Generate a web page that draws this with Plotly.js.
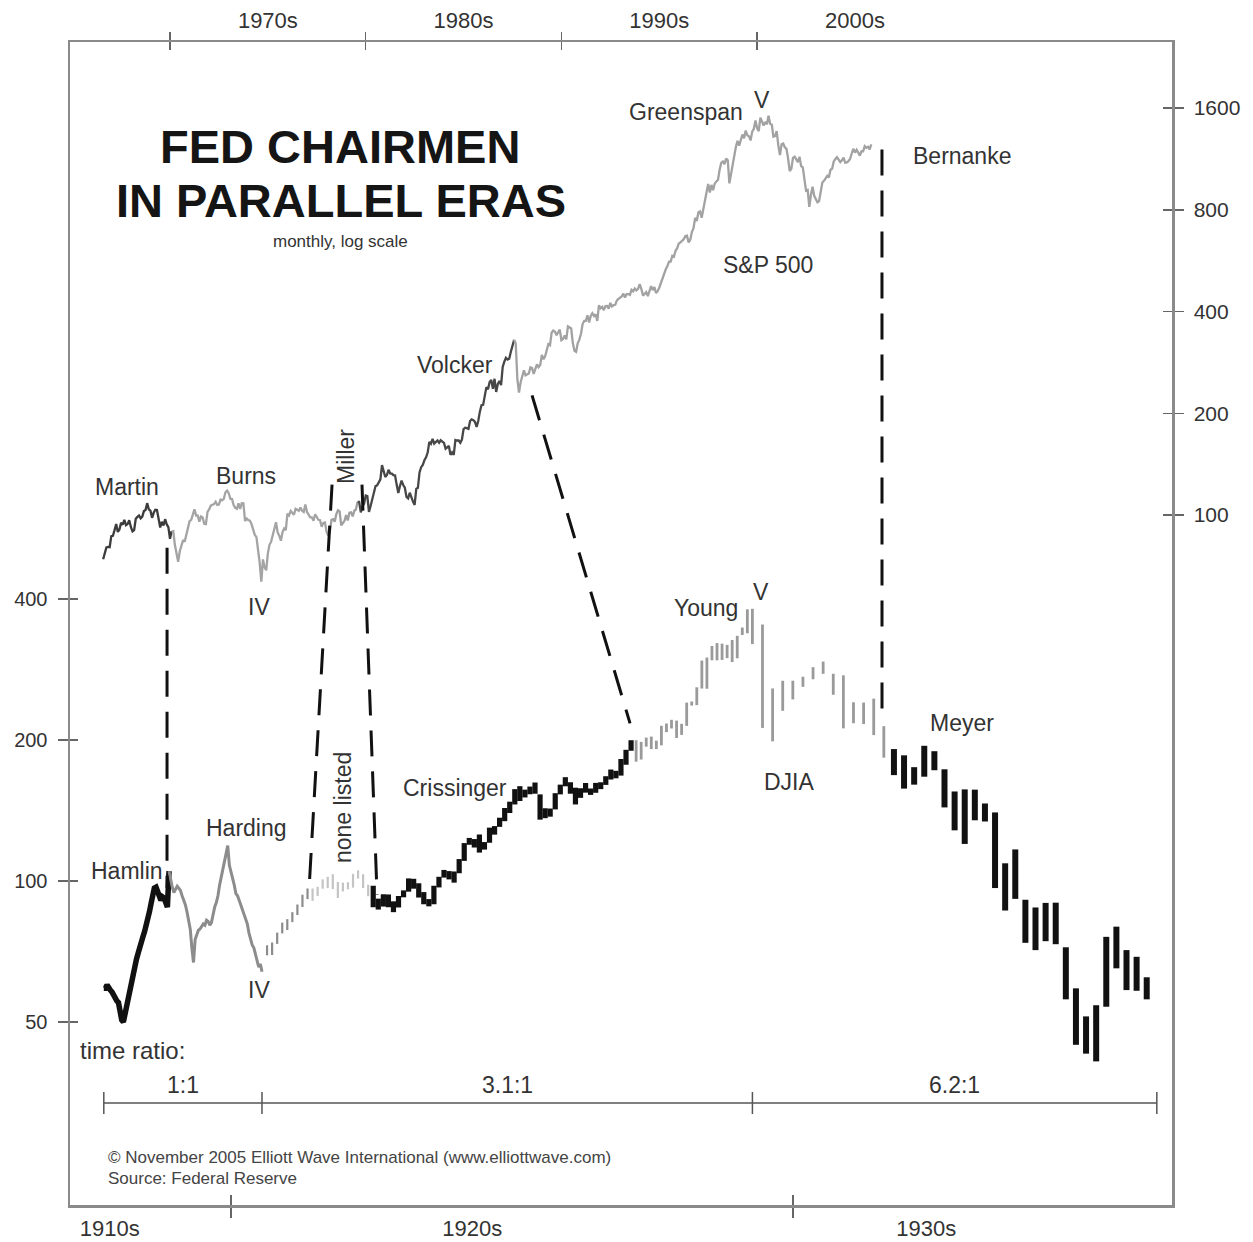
<!DOCTYPE html>
<html><head><meta charset="utf-8">
<script src="https://cdn.plot.ly/plotly-3.0.1.min.js"></script>
<style>html,body{margin:0;padding:0;background:#fff}#chart{width:1253px;height:1242px}</style>
</head><body><div id="chart"></div>
<script>
// ---------------- DATA ----------------
// S&P 500, monthly, first month Aug 1966, last Nov 2005
const spxStart = [1966, 8];
const spxClose = [
74.0,76.6,80.2,80.5,80.3,
86.6,86.8,90.2,94.0,89.1,90.6,94.8,93.6,96.7,93.3,94.0,96.5,
92.2,89.4,90.2,97.5,98.7,99.6,97.7,98.9,102.7,103.4,108.4,103.9,
103.0,98.1,101.5,103.7,103.5,97.7,91.8,95.5,93.1,97.2,93.8,92.1,
85.0,89.5,89.6,81.5,76.6,72.7,78.1,81.5,84.3,83.3,87.2,92.2,
95.9,96.8,100.3,103.9,99.6,99.7,95.6,99.0,98.3,94.2,94.0,102.1,
103.9,106.6,107.2,107.7,109.5,107.1,107.4,111.1,110.6,111.6,116.7,118.1,
116.0,111.7,111.5,107.0,105.0,104.3,108.2,104.3,108.4,108.3,96.0,97.6,
96.6,96.2,94.0,90.3,87.3,86.0,79.3,72.2,63.5,73.9,70.0,68.6,
77.0,81.6,83.4,87.3,91.2,95.2,88.8,86.9,83.9,89.0,91.2,90.2,
100.9,99.7,102.8,101.6,100.2,104.3,103.4,102.9,105.2,102.9,102.1,107.5,
102.0,99.8,98.4,98.4,96.1,100.5,98.9,96.8,96.5,92.3,94.8,95.1,
89.3,87.0,89.2,96.8,97.2,95.5,100.7,103.3,102.5,93.2,94.7,96.1,
99.9,96.3,101.6,101.8,99.1,102.9,103.8,109.3,109.3,101.8,106.2,107.9,
114.2,113.7,102.1,106.3,111.2,114.2,121.7,122.4,125.5,127.5,140.5,135.8,
129.6,131.3,136.0,132.8,132.6,131.2,130.9,122.8,116.2,121.9,126.4,122.6,
120.4,113.1,112.0,116.4,111.9,109.6,107.1,119.5,120.4,133.7,138.5,140.6,
145.3,148.1,153.0,164.4,162.4,168.1,162.6,164.4,166.1,163.6,166.4,164.9,
163.4,157.1,159.2,160.1,150.6,153.2,150.7,166.7,166.1,166.1,163.6,167.2,
179.6,181.2,180.7,179.8,189.6,191.9,190.9,188.6,182.1,189.8,202.2,211.3,
211.8,226.9,238.9,235.5,247.4,250.8,236.1,252.9,231.3,244.0,249.2,242.2,
274.1,284.2,291.7,288.4,290.1,304.0,318.7,329.8,321.8,251.8,230.3,247.1,
257.1,267.8,258.9,261.3,262.2,273.5,272.0,261.5,271.9,279.0,273.7,277.7,
297.5,288.9,294.9,309.6,320.5,318.0,346.1,351.5,349.2,340.4,346.0,353.4,
329.1,331.9,339.9,330.8,361.2,358.0,356.2,322.6,306.1,304.0,322.2,330.2,
343.9,367.1,375.2,375.3,389.8,371.2,387.8,395.4,387.9,392.5,375.2,417.1,
408.8,412.7,403.7,415.0,415.4,408.1,424.2,414.0,417.8,418.7,431.4,435.7,
438.8,443.4,451.7,440.2,450.2,450.5,448.1,463.6,458.9,467.8,461.8,466.5,
481.6,467.1,445.8,450.9,456.5,444.3,458.3,475.5,462.7,472.4,453.7,459.3,
470.4,487.4,500.7,514.7,533.4,544.8,562.1,561.9,584.4,581.5,605.4,615.9,
636.0,640.4,645.5,654.2,669.1,670.6,640.0,652.0,687.3,705.3,757.0,740.7,
786.2,790.8,757.1,801.3,848.3,885.1,954.3,899.5,947.3,914.6,955.4,970.4,
980.3,1049.3,1101.8,1111.8,1090.8,1133.8,1120.7,957.3,1017.0,1098.7,1163.6,1229.2,
1279.6,1238.3,1286.4,1335.2,1301.8,1372.7,1328.7,1320.4,1282.7,1362.9,1388.9,1469.3,
1394.5,1366.4,1498.6,1452.4,1420.6,1454.6,1430.8,1517.7,1436.5,1429.4,1315.2,1320.3,
1366.0,1239.9,1160.3,1249.5,1255.8,1224.4,1211.2,1133.6,1040.9,1059.8,1139.5,1148.1,
1130.2,1106.7,1147.4,1076.9,1067.1,989.8,911.6,916.1,815.3,885.8,936.3,879.8,
855.7,841.2,848.2,916.9,963.6,974.5,990.3,1008.0,996.0,1050.7,1058.2,1111.9,
1131.1,1144.9,1126.2,1107.3,1120.7,1140.8,1101.7,1104.2,1114.6,1130.2,1173.8,1211.9,
1181.3,1203.6,1180.6,1156.9,1191.5,1191.3,1234.2,1220.3,1228.8,1207.0,1249.5
];
const spxChairs = ['Martin','Burns','Miller','Volcker','Greenspan'];
const spxChairFrom = ['1966-08','1970-02','1978-03','1979-08','1987-08'];

// DJIA, monthly levels in the 1:1 section (first month Jul 1913, last Aug 1921)
const djiaLineStart = [1913, 7];
const djiaLine = [
59,59,60,59,58.5,58,57,56.5,55.5,55,52,50.5,50,52,54.5,57,59,62,63.5,66,
68,70,71.5,74,76,78,80,82.5,86,89.5,93,96.6,97,95.5,93,91,92.5,92,90,88,
105,100,97,94.5,96,97.5,96.5,95.5,93,91,89,86,83,79,72,67,75,77,78.5,79,
80,81,80.5,82.5,82,80.5,81.5,85,88,90,93,98,102,106,111,116,119,108,105,102,
98,94,93,91,89,87,85,83.5,81,77.5,75,73,72,70,68,65.5,66.5,64
];
// DJIA monthly high / low bars (first month Sep 1921, last Dec 1932)
const djiaBarStart = [1921, 9];
const djiaHigh = [
72.9,73.9,77.6,81.5,
82.9,85.8,89.1,93.5,96.4,96.4,97.2,100.8,102.1,103.4,99.5,99.2,
99.4,103.6,105.4,103.4,98.2,97.7,91.7,93.7,93.6,90.5,92.9,95.5,
101.3,101.1,98.9,94.7,91.5,97.7,102.1,105.6,105.0,104.8,111.4,120.5,
123.6,122.9,125.7,121.1,130.0,131.0,136.5,143.2,147.7,157.1,159.4,156.7,
159.1,162.3,153.1,143.0,142.8,154.0,160.6,166.6,162.5,158.2,157.8,161.9,
157.6,162.0,162.5,167.4,173.0,171.9,182.2,190.6,199.8,199.8,198.2,202.4,
203.4,199.4,214.5,216.9,220.9,220.0,216.6,240.4,241.7,259.2,295.6,300.0,
317.5,322.1,321.2,319.3,327.1,333.8,347.7,380.3,381.2,352.9,257.7,267.6,
267.7,273.0,286.1,294.1,277.0,274.9,240.8,240.4,245.1,214.1,191.3,185.5,
175.0,194.4,189.3,173.2,155.3,156.9,156.7,146.4,140.1,109.1,116.8,91.2,
87.8,89.8,89.9,72.2,59.0,51.4,54.3,76.0,79.9,71.2,68.9,62.3
];
const djiaLow = [
69.4,69.5,73.4,77.3,
78.6,81.7,84.6,88.0,91.5,90.7,92.9,96.3,96.6,96.1,92.0,95.0,
96.0,96.8,101.2,96.6,92.8,87.9,86.9,88.2,87.9,85.8,87.8,92.3,
94.9,96.3,92.2,89.2,88.3,89.2,96.9,101.7,100.8,99.2,103.9,110.4,
119.5,117.9,115.0,116.7,120.7,125.6,130.5,134.2,139.7,145.7,148.2,150.8,
153.2,153.6,135.2,136.2,137.2,142.2,153.1,159.3,153.6,145.7,150.5,154.4,
152.7,154.3,157.1,160.4,164.7,165.7,167.9,177.1,189.7,179.8,181.7,193.6,
191.3,191.3,194.8,207.9,211.7,202.0,205.1,214.4,236.9,237.4,257.6,257.3,
296.0,295.9,296.5,299.1,293.4,298.9,335.2,338.0,320.5,212.3,198.7,230.9,
244.2,259.8,269.6,276.9,249.8,211.8,217.2,216.3,204.9,183.4,168.3,157.5,
160.6,167.0,172.4,143.6,128.3,120.0,134.8,134.0,96.6,86.5,91.6,73.8,
71.2,74.4,73.3,55.9,44.7,42.8,41.2,53.9,65.1,58.5,58.3,55.9
];
const djiaChairs = ['Hamlin','Harding','none listed','Crissinger','Young','Meyer'];
const djiaChairFrom = ['1913-07','1916-11','1922-06','1923-06','1927-10','1930-11'];

// Time ratio sections (DJIA time compressed against S&P time)
const ratioLabels = ['1:1','3.1:1','6.2:1'];
const ratioValues = [1, 3.1, 6.2];
const ratioDjiaFrom = [1913.5, 1921.583, 1929.667];
const ratioDjiaTo = 1933.0;
const ratioSpxAnchor = 1966.617;

// Dashed links between parallel chairman changes
const linkSpxDate  = [1969.85, 1978.28, 1979.81, 1988.50, 2006.38];
const linkSpxLevel = [80, 123, 123, 226, 1206];
const linkDjiaDate = [1916.73, 1922.36, 1923.48, 1927.65, 1930.735];
const linkDjiaLevel = [96.6, 96.6, 93.4, 217, 226];

// Axes ticks / labels
const topTickYears = [1970, 1980, 1990, 2000];
const topLabelAt = [1975, 1985, 1995, 2005];
const topLabels = ['1970s', '1980s', '1990s', '2000s'];
const bottomTickDjia = [1920, 1930];
const bottomLabelAt = [1913.8, 1925.05, 1931.1];
const bottomLabels = ['1910s', '1920s', '1930s'];
const djiaTicks = [50, 100, 200, 400];
const spxTicks = [100, 200, 400, 800, 1600];

// ---------------- HELPERS ----------------
const ym = (y, m) => y + (m - 1) / 12;
const parseYM = s => { const p = s.split('-').map(Number); return ym(p[0], p[1]); };
const spStarts = [ratioSpxAnchor];
for (let i = 1; i < ratioValues.length; i++)
  spStarts.push(spStarts[i-1] + (ratioDjiaFrom[i] - ratioDjiaFrom[i-1]) * ratioValues[i-1]);
const spEnd = spStarts[2] + (ratioDjiaTo - ratioDjiaFrom[2]) * ratioValues[2];
function alignDjia(t) {
  let i = 0;
  for (let k = 0; k < ratioDjiaFrom.length; k++) if (t >= ratioDjiaFrom[k] - 1e-6) i = k;
  return spStarts[i] + (t - ratioDjiaFrom[i]) * ratioValues[i];
}
const X_RANGE = [1964.89, 2021.20];
const YL = [1.3083, 3.7913];     // DJIA (left) log range
const YR = [-0.0414, 3.3994];    // S&P (right) log range
const djiaOnSpxScale = v => Math.pow(10, YR[0] + (Math.log10(v) - YL[0]) / (YL[1] - YL[0]) * (YR[1] - YR[0]));

const W = 1253, H = 1242, ML = 70, MR = 81, MT = 42, MB = 37;
const PW = W - ML - MR, PH = H - MT - MB;
const PX = x => (x - ML) / PW, PY = y => (H - MB - y) / PH;

const FONT = 'Liberation Sans, Arial, Helvetica, sans-serif';
const traces = [];

// S&P traces by chairman
const spxColors = ['#3c3c3c', '#a4a4a4', '#a0a0a0', '#474747', '#a2a2a2'];
const spxDates = spxClose.map((_, i) => ym(spxStart[0], spxStart[1] + i));
const spxIdx = s => Math.round((parseYM(s) - ym(spxStart[0], spxStart[1])) * 12);
spxChairs.forEach((name, k) => {
  const a = Math.max(0, spxIdx(spxChairFrom[k]));
  const b = k + 1 < spxChairs.length ? spxIdx(spxChairFrom[k+1]) : spxClose.length - 1;
  traces.push({
    x: spxDates.slice(a, b + 1), y: spxClose.slice(a, b + 1),
    xaxis: 'x', yaxis: 'y2', mode: 'lines', name: 'S&P 500 – ' + name,
    line: { color: spxColors[k], width: 2.3 }, hoverinfo: 'skip'
  });
});

// DJIA line part (1:1 section)
const djiaLineDates = djiaLine.map((_, i) => ym(djiaLineStart[0], djiaLineStart[1] + i));
const eraOf = t => { let e = 0; djiaChairFrom.forEach((s, k) => { if (t >= parseYM(s) - 1e-6) e = k; }); return e; };
const djiaColors = ['#111111', '#8c8c8c', '#c4c4c4', '#111111', '#9a9a9a', '#111111'];
const lineWidths = [5.5, 3, 2, 5, 3, 6];
const barWidths  = [5, 2.2, 2.2, 5.2, 2.8, 6];
for (let e = 0; e < 2; e++) {
  const xs = [], ys = [];
  djiaLineDates.forEach((t, i) => {
    const ee = eraOf(t);
    if (ee === e || (ee === e + 1 && i > 0 && eraOf(djiaLineDates[i-1]) === e)) { xs.push(alignDjia(t)); ys.push(djiaLine[i]); }
  });
  traces.push({ x: xs, y: ys, xaxis: 'x', yaxis: 'y', mode: 'lines', name: 'DJIA – ' + djiaChairs[e],
    line: { color: djiaColors[e], width: lineWidths[e] }, hoverinfo: 'skip' });
}
// DJIA bars
const barGroups = {};
djiaHigh.forEach((h, i) => {
  const t = ym(djiaBarStart[0], djiaBarStart[1] + i);
  const e = eraOf(t);
  const X = alignDjia(t);
  (barGroups[e] = barGroups[e] || { x: [], y: [] });
  barGroups[e].x.push(X, X, null);
  barGroups[e].y.push(djiaLow[i], h, null);
});
Object.keys(barGroups).forEach(k => {
  const e = +k;
  traces.push({ x: barGroups[e].x, y: barGroups[e].y, xaxis: 'x', yaxis: 'y', mode: 'lines',
    name: 'DJIA – ' + djiaChairs[e], line: { color: djiaColors[e], width: barWidths[e] }, hoverinfo: 'skip' });
});

// Dashed links
linkSpxDate.forEach((d, i) => {
  traces.push({ x: [d, alignDjia(linkDjiaDate[i])], y: [linkSpxLevel[i], djiaOnSpxScale(linkDjiaLevel[i])],
    xaxis: 'x', yaxis: 'y2', mode: 'lines', line: { color: '#111', width: 3, dash: '26px,15px' }, hoverinfo: 'skip' });
});

// invisible anchors so the overlay axes get drawn
[['x2','y'], ['x3','y'], ['x4','y'], ['x5','y'], ['x6','y'], ['x','y3'], ['x','y4']].forEach(p => traces.push({
  x: [1990], y: [100], xaxis: p[0], yaxis: p[1], mode: 'markers',
  marker: { opacity: 0, size: 1 }, hoverinfo: 'skip', showlegend: false }));

// ---------------- LAYOUT ----------------
const frame = { showline: true, linecolor: '#8a8a8a', linewidth: 2.5, showgrid: false, zeroline: false };
const tickStyle = { tickcolor: '#666', tickwidth: 1.5 };
const inner = { showline: false, showgrid: false, zeroline: false, showticklabels: false, ticks: 'inside', tickcolor: '#666', tickwidth: 1.5 };
const txt = (text, x, y, size, opts) => Object.assign({ text, x: PX(x), y: PY(y), xref: 'paper', yref: 'paper',
  xanchor: 'center', yanchor: 'middle', showarrow: false, font: { family: FONT, size: size, color: '#333' } }, opts || {});
const small = { family: FONT, size: 17, color: '#444' };

const annotations = [
  txt('<b>FED CHAIRMEN</b>', 340, 147, 47, { font: { family: FONT, size: 47, color: '#151515' } }),
  txt('<b>IN PARALLEL ERAS</b>', 341, 201, 47, { font: { family: FONT, size: 47, color: '#151515' } }),
  txt('monthly, log scale', 340, 242, 17),
  txt('Martin', 127, 487, 23), txt('Burns', 246, 476, 23),
  txt('Miller', 346, 457, 23, { textangle: -90 }),
  txt('IV', 259, 607, 23), txt('Volcker', 455, 365, 23),
  txt('Greenspan', 686, 112, 23), txt('V', 762, 100, 23),
  txt('S&amp;P 500', 768, 265, 23), txt('Bernanke', 962, 156, 23),
  txt('Young', 706, 608, 23), txt('V', 761, 592, 23),
  txt('DJIA', 789, 782, 23), txt('Meyer', 962, 723, 23),
  txt('Crissinger', 455, 788, 23), txt('Harding', 246, 828, 23),
  txt('Hamlin', 127, 871, 23), txt('IV', 259, 990, 23),
  txt('none listed', 343, 808, 23, { textangle: -90 }),
  txt('time ratio:', 78, 1050, 24, { xanchor: 'left' }),
  txt('© November 2005 Elliott Wave International (www.elliottwave.com)', 106, 1157, 17, { xanchor: 'left', font: small }),
  txt('Source: Federal Reserve', 106, 1178, 17, { xanchor: 'left', font: small })
];
// time ratio labels at section centres
const secBounds = spStarts.concat([spEnd]);
ratioLabels.forEach((lab, i) => {
  annotations.push({ text: lab, x: (secBounds[i] + secBounds[i+1]) / 2, xref: 'x', y: PY(1085), yref: 'paper',
    xanchor: 'center', yanchor: 'middle', showarrow: false, font: { family: FONT, size: 23, color: '#333' } });
});
// time ratio bracket
const shapes = [{ type: 'line', xref: 'x', yref: 'paper', x0: secBounds[0], x1: secBounds[3], y0: PY(1103), y1: PY(1103),
  line: { color: '#555', width: 1.5 } }];
secBounds.forEach(b => shapes.push({ type: 'line', xref: 'x', yref: 'paper', x0: b, x1: b, y0: PY(1092), y1: PY(1114),
  line: { color: '#555', width: 1.5 } }));

const layout = {
  width: W, height: H, margin: { l: ML, r: MR, t: MT, b: MB },
  paper_bgcolor: '#fff', plot_bgcolor: '#fff', showlegend: false, hovermode: false,
  font: { family: FONT, color: '#333' },
  xaxis: Object.assign({ range: X_RANGE, side: 'top', anchor: 'y', tickmode: 'array', tickvals: topTickYears,
    showticklabels: false, ticks: 'outside', ticklen: 8 }, frame, tickStyle),
  xaxis5: Object.assign({ range: X_RANGE, overlaying: 'x', side: 'top', anchor: 'y', tickmode: 'array', tickvals: topTickYears, ticklen: 8 }, inner),
  xaxis3: { range: X_RANGE, overlaying: 'x', side: 'top', anchor: 'y', tickmode: 'array', tickvals: topLabelAt, ticktext: topLabels,
    ticks: '', showline: false, showgrid: false, zeroline: false, ticklabelstandoff: 9,
    tickfont: { family: FONT, size: 22, color: '#333' } },
  xaxis2: Object.assign({ range: X_RANGE, overlaying: 'x', side: 'bottom', anchor: 'y', tickmode: 'array',
    tickvals: bottomTickDjia.map(alignDjia), showticklabels: false, ticks: 'outside', ticklen: 10 }, frame, tickStyle),
  xaxis6: Object.assign({ range: X_RANGE, overlaying: 'x', side: 'bottom', anchor: 'y', tickmode: 'array',
    tickvals: bottomTickDjia.map(alignDjia), ticklen: 10 }, inner),
  xaxis4: { range: X_RANGE, overlaying: 'x', side: 'bottom', anchor: 'y', tickmode: 'array', tickvals: bottomLabelAt.map(alignDjia),
    ticktext: bottomLabels, ticks: '', showline: false, showgrid: false, zeroline: false, ticklabelstandoff: 8,
    tickfont: { family: FONT, size: 22, color: '#333' } },
  yaxis: Object.assign({ type: 'log', range: YL, side: 'left', tickmode: 'array', tickvals: djiaTicks,
    ticktext: djiaTicks.map(String), ticks: 'outside', ticklen: 10, ticklabelstandoff: 6,
    tickfont: { family: FONT, size: 20, color: '#333' } }, frame, tickStyle),
  yaxis3: Object.assign({ type: 'log', range: YL, side: 'left', overlaying: 'y', anchor: 'x', tickmode: 'array',
    tickvals: djiaTicks, ticklen: 8 }, inner),
  yaxis2: Object.assign({ type: 'log', range: YR, side: 'right', overlaying: 'y', anchor: 'x', tickmode: 'array',
    tickvals: spxTicks, ticktext: spxTicks.map(String), ticks: 'outside', ticklen: 9, ticklabelstandoff: 6,
    tickfont: { family: FONT, size: 21, color: '#333' } }, frame, tickStyle),
  yaxis4: Object.assign({ type: 'log', range: YR, side: 'right', overlaying: 'y', anchor: 'x', tickmode: 'array',
    tickvals: spxTicks, ticklen: 9 }, inner),
  annotations, shapes
};

Plotly.newPlot('chart', traces, layout, { staticPlot: true, displayModeBar: false });
</script></body></html>
